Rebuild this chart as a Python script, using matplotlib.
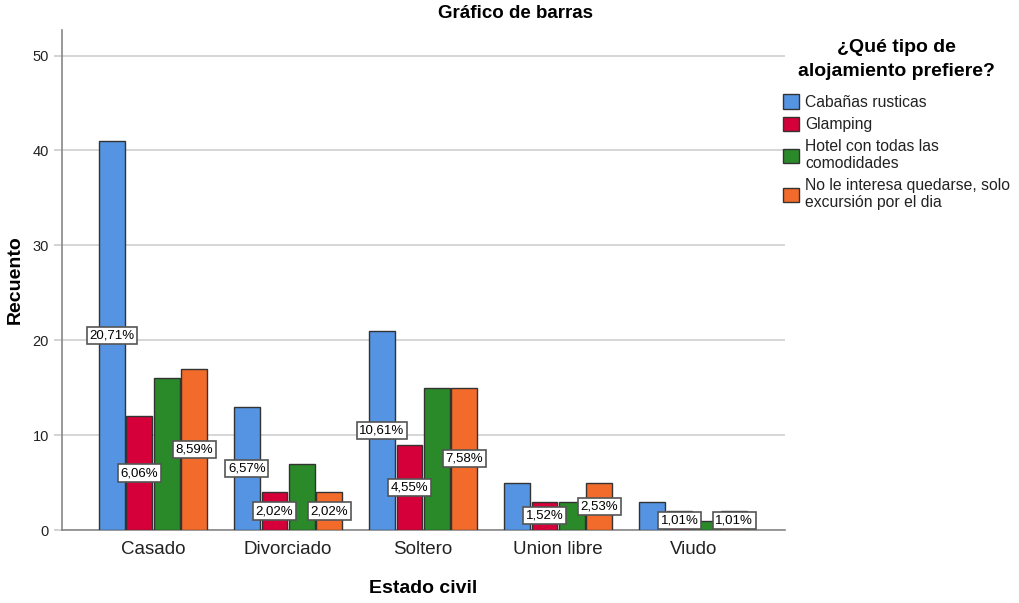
import matplotlib
matplotlib.use("Agg")
import matplotlib.pyplot as plt
import numpy as np

plt.rcParams['font.family'] = ['Liberation Sans', 'DejaVu Sans']

categories = ["Casado", "Divorciado", "Soltero", "Union libre", "Viudo"]
series = ["Cabañas rusticas", "Glamping", "Hotel con todas las\ncomodidades",
          "No le interesa quedarse, solo\nexcursión por el dia"]
counts = {
    "Cabañas rusticas": [41, 13, 21, 5, 3],
    "Glamping": [12, 4, 9, 3, 2],
    "Hotel": [16, 7, 15, 3, 1],
    "No le interesa": [17, 4, 15, 5, 2],
}
# which percentage labels are displayed (others hidden to avoid overlap)
show_label = {
    "Cabañas rusticas": [True, True, True, False, False],
    "Glamping": [True, True, True, True, True],
    "Hotel": [False, False, False, False, False],
    "No le interesa": [True, True, True, True, True],
}
colors = ["#5594E2", "#D5003A", "#2A8A2A", "#F26B2A"]

total = sum(sum(v) for v in counts.values())

fig = plt.figure(figsize=(10.19, 6.03), dpi=100)
ax = fig.add_axes([62/1019, 73/603, (785-62)/1019, (530-30)/603])

x = np.arange(len(categories))
w = 0.19
step = 0.203
keys = list(counts.keys())
handles = []
for i, k in enumerate(keys):
    xs = x + (i - 1.5) * step
    b = ax.bar(xs, counts[k], width=w, color=colors[i], edgecolor="#333333",
               linewidth=1.0, zorder=3)
    handles.append(b)
    for j, v in enumerate(counts[k]):
        if show_label[k][j]:
            pct = v / total * 100
            txt = f"{pct:.2f}%".replace(".", ",")
            ax.text(xs[j], v / 2, txt, ha="center", va="center", fontsize=9.5,
                    zorder=5,
                    bbox=dict(boxstyle="square,pad=0.2", facecolor="white",
                              edgecolor="#555555", linewidth=1.2))

ax.set_xlim(-0.674, 4.68)
ax.set_ylim(0, 52.7)
ax.set_yticks([0, 10, 20, 30, 40, 50])
ax.yaxis.grid(True, color="#d0d0d0", linewidth=1.2, zorder=0)
ax.set_axisbelow(True)
ax.set_xticks(x)
ax.set_xticklabels(categories, fontsize=13.5, color="#222222")
ax.tick_params(axis="y", labelsize=10.5, colors="#222222", length=6, color="#cccccc", width=1.2)
ax.tick_params(axis="x", length=0, pad=8)
for s in ["top", "right"]:
    ax.spines[s].set_visible(False)
for s in ["left", "bottom"]:
    ax.spines[s].set_color("#888888")
    ax.spines[s].set_linewidth(1.2)

ax.set_ylabel("Recuento", fontsize=14, fontweight="bold", labelpad=6)
ax.set_xlabel("Estado civil", fontsize=14, fontweight="bold", labelpad=16)
fig.text(515/1019, 1 - 14/603, "Gráfico de barras", fontsize=13.5, fontweight="bold",
         ha="center", va="center")

leg = fig.legend(handles, series, loc="upper left",
                 bbox_to_anchor=(783/1019, 1 - 39/603),
                 title="¿Qué tipo de\nalojamiento prefiere?",
                 title_fontproperties={"weight": "bold", "size": 14},
                 fontsize=11.3, frameon=False, handlelength=1.05, handleheight=1.05,
                 handletextpad=0.35, labelspacing=0.45, borderaxespad=0, borderpad=0,
                 alignment="center")
leg.get_title().set_multialignment("center")
leg.get_title().set_linespacing(1.55)
leg._legend_box.sep = 10
for t in leg.get_texts():
    t.set_linespacing(1.15)
    t.set_color("#222222")

fig.savefig("out.png", dpi=100)
